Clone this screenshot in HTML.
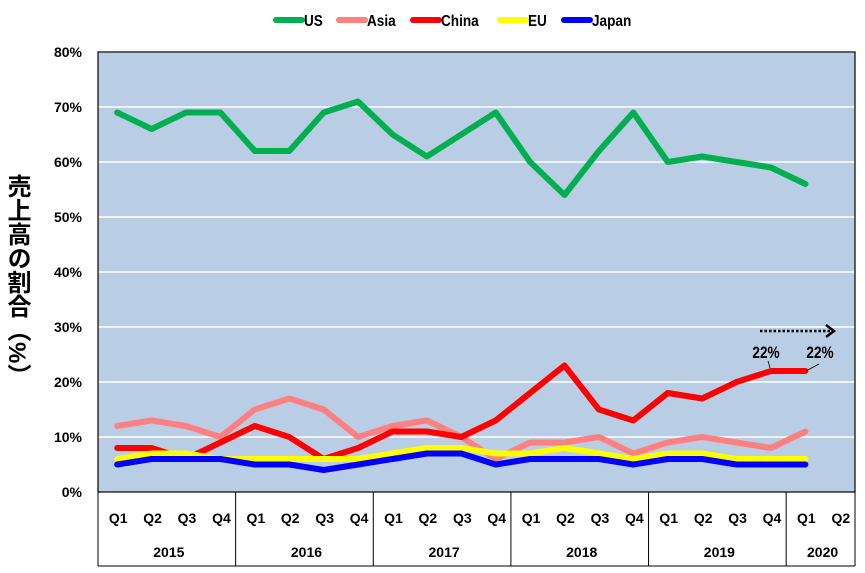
<!DOCTYPE html>
<html><head><meta charset="utf-8"><style>
body{margin:0;background:#fff;width:865px;height:573px;overflow:hidden;font-family:"Liberation Sans",Arial,sans-serif}
.yl{position:absolute;left:4px;top:174px;writing-mode:vertical-rl;font:bold 24px/24px "Liberation Sans","Noto Sans CJK JP",sans-serif;color:#000}
</style></head><body>
<div class="yl">売上高の割合（%）</div>
<svg id="s" width="865" height="573" style="position:absolute;left:0;top:0" font-family="Liberation Sans, Arial, sans-serif" font-weight="bold" font-size="14"></svg>
<script>
var s=document.getElementById('s'),h='';
var L=98,R=855,W=(R-L)/22;
function X(i){return L+W*(i+0.5)+2}
function Y(v){return 492-5.5*v}
h+='<rect x="98" y="52" width="757" height="440" fill="#b9cde4"/>';
for(var v=10;v<=80;v+=10)h+='<line x1="98" x2="855" y1="'+Y(v)+'" y2="'+Y(v)+'" stroke="#fff" stroke-width="1.5"/>';
h+='<rect x="98" y="52" width="757" height="440" fill="none" stroke="#000" stroke-width="1.2"/>';
for(var v=0;v<=80;v+=10)h+='<text x="82" y="'+(Y(v)+5)+'" text-anchor="end">'+v+'%</text>';
h+='<line x1="98" x2="98" y1="492" y2="566" stroke="#000"/><line x1="855" x2="855" y1="492" y2="566" stroke="#000"/><line x1="98" x2="855" y1="566" y2="566" stroke="#000"/>';
var yrs=['2015','2016','2017','2018','2019','2020'];
for(var i=0;i<22;i++){h+='<text x="'+(X(i)+1)+'" y="523" text-anchor="middle">Q'+(i%4+1)+'</text>';}
for(var k=1;k<6;k++){var x=L+W*4*k;h+='<line x1="'+x+'" x2="'+x+'" y1="492" y2="566" stroke="#000"/>';}
for(var k=0;k<6;k++){var a=L+W*4*k,b=Math.min(R,a+W*4);h+='<text x="'+((a+b)/2+2)+'" y="557" text-anchor="middle">'+yrs[k]+'</text>';}
var D=[
['#ff8080',[12,13,12,10,15,17,15,10,12,13,10,6,9,9,10,7,9,10,9,8,11]],
['#ff0000',[8,8,6,9,12,10,6,8,11,11,10,13,18,23,15,13,18,17,20,22,22]],
['#ffff00',[6,7,7,6,6,6,6,6,7,8,8,7,7,8,7,6,7,7,6,6,6]],
['#0000ff',[5,6,6,6,5,5,4,5,6,7,7,5,6,6,6,5,6,6,5,5,5]],
['#00b050',[69,66,69,69,62,62,69,71,65,61,65,69,60,54,62,69,60,61,60,59,56]]];
D.forEach(function(d){var p=d[1].map(function(v,i){return X(i).toFixed(1)+','+Y(v).toFixed(1)}).join(' ');
h+='<polyline points="'+p+'" fill="none" stroke="'+d[0]+'" stroke-width="6" stroke-linejoin="round" stroke-linecap="round"/>';});
h+='<text x="766" y="358" text-anchor="middle" font-size="17" transform="translate(766 358) scale(0.8 1) translate(-766 -358)">22%</text>';
h+='<text x="820" y="358" text-anchor="middle" font-size="17" transform="translate(820 358) scale(0.8 1) translate(-820 -358)">22%</text>';
h+='<line x1="768" y1="361" x2="770" y2="368" stroke="#000" stroke-width="0.8"/><line x1="819" y1="364" x2="806" y2="371" stroke="#000" stroke-width="0.8"/>';
h+='<line x1="760" y1="331" x2="833" y2="331" stroke="#000" stroke-width="2.5" stroke-dasharray="2.5,2"/><polyline points="826,325 834,331 826,337" fill="none" stroke="#000" stroke-width="2.5"/>';
var lg=[['#00b050',276,'US'],['#ff8080',339,'Asia'],['#ff0000',413,'China'],['#ffff00',500,'EU'],['#0000ff',564,'Japan']];
lg.forEach(function(g){h+='<line x1="'+g[1]+'" x2="'+(g[1]+26)+'" y1="20" y2="20" stroke="'+g[0]+'" stroke-width="6" stroke-linecap="round"/><text x="'+(g[1]+28)+'" y="26" font-size="16" transform="translate('+(g[1]+28)+' 26) scale(0.85 1) translate('+(-(g[1]+28))+' -26)">'+g[2]+'</text>';});
s.innerHTML=h;
</script>
</body></html>
